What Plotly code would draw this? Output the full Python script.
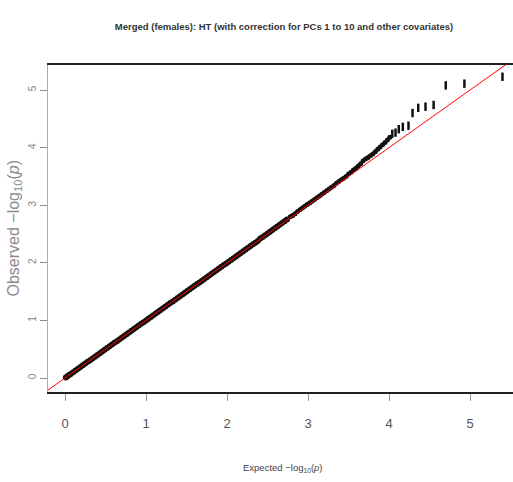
import plotly.graph_objects as go

# QQ plot data (expected vs observed -log10 p)
expected_body = [0.01, 0.03, 0.05, 0.07, 0.10, 0.13, 0.16, 0.19, 0.22, 0.25,
                 0.28, 0.31, 0.34, 0.37, 0.40, 0.43, 0.46, 0.49, 0.52, 0.55,
                 0.58, 0.61, 0.64, 0.67, 0.70, 0.73, 0.76, 0.79, 0.82, 0.85,
                 0.88, 0.91, 0.94, 0.97, 1.00, 1.03, 1.06, 1.09, 1.12, 1.15,
                 1.18, 1.21, 1.24, 1.27, 1.30, 1.33, 1.36, 1.39, 1.42, 1.45,
                 1.48, 1.51, 1.54, 1.57, 1.60, 1.63, 1.66, 1.69, 1.72, 1.75,
                 1.78, 1.81, 1.84, 1.87, 1.90, 1.93, 1.96, 1.99, 2.02, 2.05,
                 2.08, 2.11, 2.14, 2.17, 2.20, 2.23, 2.26, 2.29, 2.32, 2.35,
                 2.38, 2.41, 2.44, 2.47, 2.50, 2.53, 2.56, 2.59, 2.62, 2.65,
                 2.68, 2.71, 2.74]
observed_body = [0.01, 0.03, 0.05, 0.07, 0.10, 0.13, 0.16, 0.19, 0.22, 0.25,
                 0.28, 0.31, 0.34, 0.37, 0.40, 0.43, 0.46, 0.49, 0.52, 0.55,
                 0.58, 0.61, 0.64, 0.67, 0.70, 0.73, 0.76, 0.79, 0.82, 0.85,
                 0.88, 0.91, 0.94, 0.97, 1.00, 1.03, 1.06, 1.09, 1.12, 1.15,
                 1.18, 1.21, 1.24, 1.27, 1.30, 1.33, 1.36, 1.39, 1.42, 1.45,
                 1.48, 1.51, 1.54, 1.57, 1.60, 1.63, 1.66, 1.69, 1.72, 1.75,
                 1.78, 1.81, 1.84, 1.87, 1.90, 1.93, 1.96, 1.99, 2.02, 2.05,
                 2.08, 2.11, 2.14, 2.17, 2.20, 2.23, 2.26, 2.29, 2.32, 2.35,
                 2.38, 2.42, 2.45, 2.48, 2.51, 2.54, 2.57, 2.60, 2.63, 2.66,
                 2.69, 2.72, 2.75]

expected_upper = [2.78, 2.81, 2.84, 2.87, 2.90, 2.93, 2.96, 2.99, 3.02, 3.05,
                  3.08, 3.11, 3.14, 3.17, 3.20, 3.23, 3.26, 3.29, 3.32, 3.35,
                  3.38, 3.41, 3.44, 3.47, 3.50, 3.53, 3.56, 3.59, 3.62, 3.65,
                  3.68, 3.71, 3.74, 3.77, 3.80, 3.83, 3.86, 3.89, 3.92, 3.95,
                  3.98, 4.01]
observed_upper = [2.80, 2.82, 2.85, 2.89, 2.92, 2.95, 2.98, 3.01, 3.04, 3.07,
                  3.10, 3.13, 3.16, 3.19, 3.22, 3.25, 3.28, 3.31, 3.34, 3.38,
                  3.41, 3.44, 3.47, 3.50, 3.54, 3.57, 3.61, 3.64, 3.68, 3.72,
                  3.77, 3.80, 3.83, 3.86, 3.89, 3.93, 3.97, 4.01, 4.05, 4.09,
                  4.13, 4.18]

expected_tail = [4.04, 4.08, 4.12, 4.17, 4.24, 4.29, 4.36, 4.45, 4.55, 4.70, 4.93, 5.40]
observed_tail = [4.24, 4.26, 4.32, 4.36, 4.38, 4.60, 4.69, 4.71, 4.74, 5.08, 5.11, 5.23]

ref_line = [-1, 6]
x_ticks = [0, 1, 2, 3, 4, 5]
y_ticks = [0, 1, 2, 3, 4, 5]

fig = go.Figure()
fig.add_trace(go.Scatter(x=expected_body, y=observed_body, mode="markers",
                         marker=dict(symbol="circle", size=6, color="#151010",
                                     line=dict(width=0)),
                         showlegend=False, hoverinfo="skip"))
fig.add_trace(go.Scatter(x=expected_upper, y=observed_upper, mode="markers",
                         marker=dict(symbol="circle", size=5, color="#151010",
                                     line=dict(width=0)),
                         showlegend=False, hoverinfo="skip"))
fig.add_trace(go.Scatter(x=expected_tail, y=observed_tail, mode="markers",
                         marker=dict(symbol="line-ns", size=6, color="#111111",
                                     line=dict(width=2.5, color="#111111")),
                         showlegend=False, hoverinfo="skip"))
fig.add_trace(go.Scatter(x=ref_line, y=ref_line, mode="lines",
                         line=dict(color="red", width=1),
                         showlegend=False, hoverinfo="skip"))

fig.update_layout(
    width=513, height=482,
    margin=dict(l=48, r=0, t=65, b=90),
    paper_bgcolor="white", plot_bgcolor="white",
    title=dict(text="<b>Merged (females): HT (with correction for PCs 1 to 10 and other covariates)</b>",
               x=284 / 513, xanchor="center", xref="container",
               y=1 - 27 / 482, yanchor="middle",
               font=dict(family="Liberation Sans, sans-serif", size=9.5, color="#333333")),
    xaxis=dict(range=[-0.21, 5.53], tickvals=x_ticks, ticktext=[str(v) for v in x_ticks],
               showgrid=False, zeroline=False, showline=True, linecolor="#222222",
               linewidth=1.5, mirror=True, ticks="outside", ticklen=7,
               tickcolor="#999999", tickwidth=1, ticklabelstandoff=12,
               tickfont=dict(family="Liberation Sans, sans-serif", size=13, color="#555555")),
    yaxis=dict(range=[-0.243, 5.434], tickvals=y_ticks, ticktext=[str(v) for v in y_ticks],
               showgrid=False, zeroline=False, showline=True, linecolor="#aaaaaa",
               linewidth=1, mirror=False, ticks="outside", ticklen=7,
               tickcolor="#888888", tickwidth=1, tickangle=-90,
               tickfont=dict(family="Liberation Sans, Arial, sans-serif", size=10, color="#888888")),
    annotations=[
        dict(text="Observed \u2212log<sub>10</sub>(<i>p</i>)", xref="paper", yref="paper",
             x=-(48 - 14) / 465, y=0.5, xanchor="center", yanchor="middle",
             textangle=-90, showarrow=False,
             font=dict(family="Liberation Sans, Arial, sans-serif", size=16, color="#8a8a8a")),
        dict(text="Expected \u2212log<sub>10</sub>(<i>p</i>)", xref="paper", yref="paper",
             x=(283 - 48) / 465, y=-(468 - 392) / 327, xanchor="center", yanchor="middle",
             showarrow=False,
             font=dict(family="Liberation Sans, sans-serif", size=9.5, color="#444444")),
    ],
)

fig.write_html("out.html")
